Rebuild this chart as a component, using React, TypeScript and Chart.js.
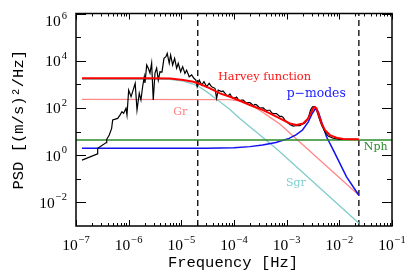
import React, { useEffect, useRef } from "react";
import { Chart, registerables } from "chart.js";

Chart.register(...registerables);

// Observed PSD (black)
const DATA_FREQ = [
  1.3e-7, 2.56e-7, 2.58e-7, 3.76e-7, 3.83e-7, 4.28e-7, 4.75e-7, 4.97e-7, 6.18e-7, 6.84e-7,
  7.46e-7, 8.04e-7, 8.89e-7, 9.29e-7, 1.0e-6, 1.11e-6, 1.19e-6, 1.33e-6, 1.44e-6, 1.59e-6,
  1.71e-6, 1.84e-6, 1.98e-6, 2.04e-6, 2.2e-6, 2.36e-6, 2.54e-6, 2.73e-6, 2.93e-6, 3.16e-6,
  3.4e-6, 3.65e-6, 3.93e-6, 4.29e-6, 4.68e-6, 5.1e-6, 5.4e-6, 5.89e-6, 6.26e-6, 6.84e-6,
  7.46e-6, 8.14e-6, 8.73e-6, 9.7e-6, 1.06e-5, 1.17e-5, 1.26e-5, 1.41e-5, 1.57e-5, 1.73e-5,
  1.89e-5, 2.0e-5, 2.19e-5, 2.43e-5, 2.69e-5, 3.02e-5, 3.38e-5, 3.76e-5, 4.35e-5, 4.68e-5,
  5.01e-5, 5.82e-5, 6.2e-5, 6.72e-5, 7.2e-5, 7.76e-5, 8.4e-5, 9.0e-5, 9.6e-5, 1.04e-4,
  1.12e-4, 1.2e-4, 1.29e-4, 1.39e-4, 1.5e-4, 1.61e-4, 1.73e-4, 1.86e-4, 2.0e-4, 2.16e-4,
  2.32e-4, 2.49e-4, 2.68e-4, 2.88e-4, 3.1e-4, 3.34e-4, 3.6e-4, 3.86e-4, 4.15e-4, 4.46e-4,
  4.8e-4, 5.17e-4, 5.55e-4, 5.97e-4, 6.4e-4, 6.9e-4, 7.4e-4, 8.0e-4, 8.6e-4, 9.3e-4,
  1.0e-3, 1.15e-3, 1.33e-3, 1.55e-3, 1.78e-3, 2.0e-3, 2.21e-3, 2.4e-3, 2.56e-3, 2.7e-3,
  2.84e-3, 3.1e-3, 3.43e-3, 3.79e-3, 4.14e-3, 4.6e-3, 5.31e-3, 6.13e-3, 7.62e-3, 1.02e-2,
  1.37e-2, 2.12e-2,
];
const DATA_PSD = [
  0.62, 1.13, 1.94, 3.4, 4.7, 7.1, 13.7, 31, 36, 50,
  69, 59, 96, 50, 570, 300, 490, 1100, 81, 420,
  216, 790, 2100, 1140, 6600, 4800, 3000, 8000, 216, 3000,
  4900, 1500, 3400, 3300, 12600, 14800, 20600, 7800, 17400, 6600,
  12600, 4800, 7800, 3400, 5600, 2900, 4000, 2100, 2500, 1800,
  1500, 790, 1500, 930, 1290, 790, 1100, 790, 680, 255,
  570, 490, 520, 420, 350, 330, 390, 300, 265, 265,
  290, 231, 200, 215, 215, 183, 160, 170, 170, 146,
  125, 140, 135, 115, 98, 100, 100, 87, 78, 80,
  80, 63, 58, 58, 58, 50, 44, 44, 40, 30,
  26, 20, 17, 18, 18, 21, 23, 29, 37, 55,
  81, 112, 114, 69, 36, 19, 9.8, 6.4, 5.2, 4.7,
  4.7, 4.7,
];

// Harvey function total fit (red)
const HARVEY_FREQ = [
  1.3e-7, 2.5e-6, 6.1e-6, 1.09e-5, 1.68e-5, 2.25e-5, 3.49e-5, 5.4e-5, 8.36e-5, 1.29e-4,
  2.0e-4, 3.58e-4, 7.43e-4, 1.15e-3, 1.54e-3, 2.06e-3, 2.56e-3, 2.97e-3, 3.18e-3, 3.43e-3,
  3.69e-3, 3.96e-3, 4.6e-3, 5.31e-3, 6.61e-3, 8.85e-3, 1.18e-2, 2.35e-2,
];
const HARVEY_PSD = [
  1800, 1800, 1780, 1520, 1290, 1030, 680, 416, 298, 202,
  133, 81, 36, 22, 18.8, 22, 36, 69, 96, 110,
  96, 59, 22, 11.6, 7.1, 5.5, 4.8, 4.7,
];

// Component Sgr (cyan)
const SGR_FREQ = [
  1.3e-7, 6.1e-6, 1.09e-5, 1.68e-5, 2.25e-5, 3.02e-5, 4.03e-5, 5.4e-5, 8.36e-5, 1.29e-4,
  2.0e-4, 3.1e-4, 6.9e-4, 2.35e-2,
];
const SGR_PSD = [
  1630, 1630, 1380, 1030, 750, 490, 300, 183, 85, 36,
  16, 7.1, 1.6, 1.3e-3,
];

// Component Gr (salmon)
const GR_FREQ = [1.3e-7, 8.0e-5, 1.3e-4, 1.8e-4, 2.4e-4, 3.5e-4, 5.0e-4, 7.4e-4, 2.35e-2];
const GR_PSD = [231, 225, 200, 160, 110, 66, 38, 21, 0.02];

// p-modes (blue)
const PMODE_FREQ = [
  1.3e-7, 3.0e-5, 1.0e-4, 2.0e-4, 3.49e-4, 6.24e-4, 1.11e-3, 1.5e-3, 2.0e-3, 2.56e-3,
  3.01e-3, 3.43e-3, 3.66e-3, 4.0e-3, 4.27e-3, 4.93e-3, 5.71e-3, 7.69e-3, 1.37e-2, 2.35e-2,
];
const PMODE_PSD = [
  1.95, 1.97, 2.05, 2.3, 2.68, 3.42, 5.15, 7.2, 11.6, 25,
  55, 86, 90, 67, 43, 16, 6.0, 1.64, 0.12, 0.02,
];

// Photon noise level (green)
const NPH_FREQ = [1e-7, 1e-1];
const NPH_PSD = [4.4, 4.4];

// Vertical markers (dashed)
const MARK_FREQS = [2.05e-5, 2.35e-2];

const X_MAJOR = [1e-7, 1e-6, 1e-5, 1e-4, 1e-3, 1e-2, 1e-1];
const X_EXP = [-7, -6, -5, -4, -3, -2, -1];
const Y_MAJOR = [1e-2, 1, 1e2, 1e4, 1e6];
const Y_EXP = [-2, 0, 2, 4, 6];
const Y_MINOR = [1e-1, 1e1, 1e3, 1e5];

const SERIES_LABELS = [
  { text: "Harvey function", f: 4.95e-5, p: 2040, color: "#ff1010", size: 11.4 },
  { text: "p\u2212modes", f: 1.0e-3, p: 416, color: "#1a1aff", size: 12.4 },
  { text: "Gr", f: 7.0e-6, p: 69, color: "#ff8080", size: 11 },
  { text: "Sgr", f: 9.7e-4, p: 0.064, color: "#7fcfcf", size: 11 },
  { text: "Nph", f: 0.0292, p: 2.27, color: "#2a8c2a", size: 11 },
];

const pts = (xs: number[], ys: number[]) => xs.map((x, i) => ({ x, y: ys[i] }));

const framePlugin = {
  id: "idlFrame",
  afterDraw(chart: any) {
    const { ctx, chartArea: a, scales } = chart;
    const xs = scales.x;
    const ys = scales.y;
    ctx.save();
    ctx.strokeStyle = "#000";
    ctx.lineWidth = 1;
    ctx.beginPath();
    const seg = (x1: number, y1: number, x2: number, y2: number) => {
      ctx.moveTo(x1, y1);
      ctx.lineTo(x2, y2);
    };
    X_MAJOR.forEach((v) => {
      const p = Math.round(xs.getPixelForValue(v)) + 0.5;
      seg(p, a.bottom, p, a.bottom - 6);
      seg(p, a.top, p, a.top + 6);
    });
    for (let k = -7; k < -1; k++) {
      for (let m = 2; m < 10; m++) {
        const p = Math.round(xs.getPixelForValue(m * Math.pow(10, k))) + 0.5;
        seg(p, a.bottom, p, a.bottom - 3);
        seg(p, a.top, p, a.top + 3);
      }
    }
    Y_MAJOR.forEach((v) => {
      const p = Math.round(ys.getPixelForValue(v)) + 0.5;
      seg(a.left, p, a.left + 10, p);
      seg(a.right, p, a.right - 10, p);
    });
    Y_MINOR.forEach((v) => {
      const p = Math.round(ys.getPixelForValue(v)) + 0.5;
      seg(a.left, p, a.left + 5, p);
      seg(a.right, p, a.right - 5, p);
    });
    ctx.stroke();
    ctx.lineWidth = 1.5;
    ctx.strokeRect(a.left, a.top, a.right - a.left, a.bottom - a.top);

    // tick labels
    const baseFont = "15.5px 'Liberation Serif', serif";
    const supFont = "10.5px 'Liberation Serif', serif";
    ctx.fillStyle = "#000";
    ctx.textBaseline = "alphabetic";
    ctx.textAlign = "left";
    const supText = (e: number) => (e < 0 ? "\u2212" + Math.abs(e) : String(e));
    X_MAJOR.forEach((v, i) => {
      const px = xs.getPixelForValue(v);
      const s = supText(X_EXP[i]);
      ctx.font = baseFont;
      const wb = ctx.measureText("10").width;
      ctx.font = supFont;
      const ws = ctx.measureText(s).width;
      const x0 = px - (wb + ws + 1) / 2;
      ctx.font = baseFont;
      ctx.fillText("10", x0, 250);
      ctx.font = supFont;
      ctx.fillText(s, x0 + wb + 1, 243);
    });
    Y_MAJOR.forEach((v, i) => {
      const py = Math.max(ys.getPixelForValue(v), a.top + 7);
      const s = supText(Y_EXP[i]);
      ctx.font = supFont;
      const ws = ctx.measureText(s).width;
      ctx.font = baseFont;
      const wb = ctx.measureText("10").width;
      const right = 67;
      ctx.fillText("10", right - ws - 1 - wb, py + 5.5);
      ctx.font = supFont;
      ctx.fillText(s, right - ws, py - 2);
    });

    // axis titles
    ctx.font = "15.5px 'Liberation Mono', monospace";
    ctx.textAlign = "center";
    ctx.fillText("Frequency [Hz]", (a.left + a.right) / 2 - 1, 267);
    ctx.save();
    ctx.translate(23, (a.top + a.bottom) / 2);
    ctx.rotate(-Math.PI / 2);
    ctx.fillText("PSD [(m/s)\u00b2/Hz]", 0, 0);
    ctx.restore();

    // series labels
    ctx.textAlign = "left";
    ctx.textBaseline = "middle";
    SERIES_LABELS.forEach((l) => {
      ctx.font = `${l.size}px 'DejaVu Serif', serif`;
      ctx.fillStyle = l.color;
      ctx.fillText(l.text, xs.getPixelForValue(l.f), ys.getPixelForValue(l.p));
    });
    ctx.restore();
  },
};

export default function App() {
  const ref = useRef<HTMLCanvasElement | null>(null);
  useEffect(() => {
    if (!ref.current) return;
    const line = (data: any, color: string, width: number, order: number, dash?: number[]) => ({
      data,
      borderColor: color,
      backgroundColor: color,
      borderWidth: width,
      borderDash: dash || [],
      pointRadius: 0,
      tension: 0,
      fill: false,
      order,
    });
    const datasets: any[] = [
      line(pts(HARVEY_FREQ, HARVEY_PSD), "#ff0000", 2, 1),
      line(pts(DATA_FREQ, DATA_PSD), "#000000", 1.2, 2),
      line(pts(NPH_FREQ, NPH_PSD), "#2a8c2a", 1.5, 3),
      line(pts(PMODE_FREQ, PMODE_PSD), "#1010f0", 1.5, 4),
      line(pts(GR_FREQ, GR_PSD), "#ff8888", 1.3, 5),
      line(pts(SGR_FREQ, SGR_PSD), "#80cccc", 1.3, 6),
      ...MARK_FREQS.map((f) => line(pts([f, f], [1e-3, 1e6]), "#000000", 1.3, 7, [6, 4])),
    ];
    const chart = new Chart(ref.current, {
      type: "line",
      data: { datasets },
      options: {
        animation: false,
        responsive: false,
        devicePixelRatio: 1,
        layout: { padding: { top: 13.5, right: 23, left: 0, bottom: 0 } },
        plugins: { legend: { display: false }, tooltip: { enabled: false } },
        elements: { line: { borderCapStyle: "butt" } },
        scales: {
          x: {
            type: "logarithmic",
            min: 1e-7,
            max: 1e-1,
            ticks: { display: false },
            grid: { display: false },
            border: { display: false },
            afterFit: (s: any) => {
              s.height = 52;
            },
          },
          y: {
            type: "logarithmic",
            min: 1e-3,
            max: 1e6,
            ticks: { display: false },
            grid: { display: false },
            border: { display: false },
            afterFit: (s: any) => {
              s.width = 76;
            },
          },
        },
      },
      plugins: [framePlugin],
    } as any);
    return () => chart.destroy();
  }, []);
  return (
    <div style={{ position: "absolute", left: 0, top: 0, width: 415, height: 278, background: "#fff" }}>
      <canvas ref={ref} width={415} height={278} style={{ display: "block" }} />
    </div>
  );
}
